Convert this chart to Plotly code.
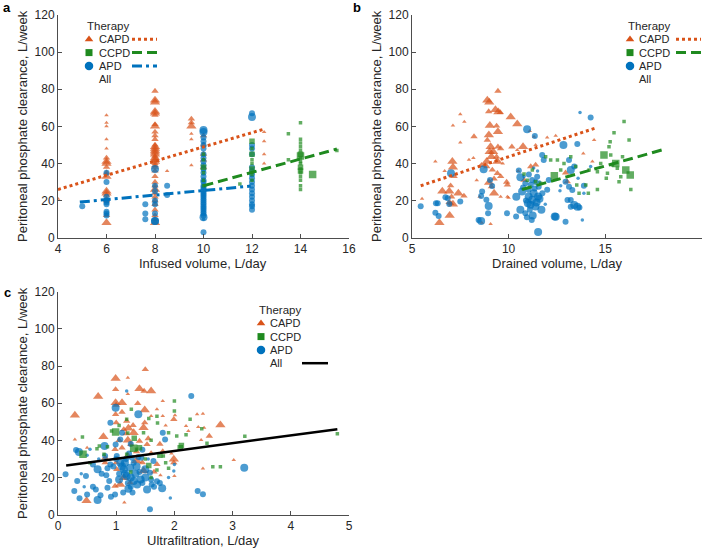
import plotly.graph_objects as go

W, H = 708, 552

# ---------------- DATA ----------------
therapies = ["CAPD", "CCPD", "APD"]
y_ticks = [0, 20, 40, 60, 80, 100, 120]
xa_ticks = [4, 6, 8, 10, 12, 14, 16]
xb_ticks = [5, 10, 15, 20]
xc_ticks = [0, 1, 2, 3, 4, 5]

capd_a_x = [4,
            6, 6, 6, 6, 6, 6, 6, 6, 6, 6, 6, 6, 6, 6, 6, 6, 6, 6,
            8, 8, 8, 8, 8, 8, 8, 8, 8, 8, 8, 8, 8, 8, 8, 8, 8, 8, 8, 8, 8, 8, 8, 8, 8, 8, 8, 8, 8, 8, 8, 8, 8, 8, 8, 8, 8,
            8.5,
            9.5, 9.5, 9.5, 9.5, 9.5, 9.5,
            10, 10, 10, 10, 10,
            12.5, 12.5, 12.5, 12.5]
capd_a_y = [21,
            66, 62, 60, 53, 48, 43, 41, 40, 38, 35, 33, 25, 24, 23, 21, 20, 12, 8,
            79, 74, 73, 68, 67, 66, 61, 60, 57, 55, 53, 50, 49, 48, 47, 46, 45, 44, 43, 42, 41, 40, 39, 38, 36, 33, 30, 28, 26, 24, 22, 20, 18, 15, 12, 10, 8,
            36,
            64, 62, 60, 56, 53, 39,
            55, 50, 45, 42, 38,
            57, 52, 45, 40]
capd_a_w = [1,
            1, 1, 1, 1, 1, 2, 3, 3, 2, 2, 3, 3, 3, 2, 2, 2, 2, 3,
            2, 3, 3, 3, 3, 2, 2, 3, 2, 2, 2, 2, 3, 3, 3, 3, 3, 2, 3, 3, 3, 2, 2, 2, 2, 2, 2, 2, 3, 2, 2, 2, 2, 2, 2, 2, 3,
            1,
            2, 2, 3, 1, 1, 1,
            2, 2, 2, 2, 2,
            1, 1, 1, 1]

ccpd_a_x = [10, 10, 10, 10, 10, 10, 11.5,
            12, 12, 12, 12, 12, 12, 12, 12, 13.5, 13.5,
            14, 14, 14, 14, 14, 14, 14, 14, 14, 14, 14, 14, 14, 14, 14, 14, 14, 14,
            14.5, 15.5]
ccpd_a_y = [45, 42, 38, 35, 31, 28, 29,
            52, 48, 45, 42, 40, 37, 34, 31, 56, 42,
            62, 53, 51, 49, 47, 45, 44, 43, 41, 40, 38, 37, 36, 35, 33, 31, 28, 26,
            34, 47]
ccpd_a_w = [1, 1, 2, 1, 1, 1, 1,
            2, 1, 2, 1, 1, 2, 1, 1, 1, 1,
            1, 1, 1, 1, 1, 2, 3, 1, 1, 1, 2, 1, 2, 1, 1, 1, 1, 1,
            3, 1]

apd_a_x = [5,
           6, 6, 6, 6, 6, 6, 6, 6, 6,
           7.6, 7.6, 7.6,
           8, 8, 8, 8, 8, 8, 8, 8,
           8.5, 8.5,
           10, 10, 10, 10, 10, 10, 10, 10, 10, 10, 10, 10, 10, 10, 10, 10, 10, 10, 10, 10, 10, 10, 10, 10, 10, 10, 10, 10, 10, 10, 10, 10, 10, 10, 10,
           12, 12, 12, 12, 12, 12, 12, 12, 12, 12, 12, 12, 12, 12, 12, 12, 12, 12, 12, 12]
apd_a_y = [17,
           35, 30, 22, 20, 19, 18, 14, 13, 12,
           18, 13, 10,
           37, 28, 25, 20, 18, 13, 9, 9,
           28, 23,
           58, 57, 54, 52, 50, 48, 45, 43, 41, 39, 37, 35, 33, 31, 30, 28, 27, 26, 25, 24, 23, 22, 21, 20, 19, 18, 17, 16, 15, 14, 13, 12, 11, 10, 3,
           67, 65, 50, 48, 45, 38, 36, 34, 32, 30, 28, 26, 24, 22, 20, 18, 17, 15, 14, 9]
apd_a_w = [2,
           2, 2, 2, 2, 2, 2, 2, 2, 2,
           2, 2, 2,
           3, 2, 2, 2, 2, 2, 3, 3,
           2, 2,
           3, 3, 2, 2, 2, 2, 2, 2, 2, 2, 2, 2, 2, 2, 2, 2, 2, 2, 2, 2, 2, 2, 2, 2, 2, 2, 2, 2, 2, 2, 2, 2, 3,
           1, 2, 2, 3, 2, 2, 2, 2, 2, 2, 2, 2, 2, 2, 2, 2, 2, 2, 2, 2]

capd_b_points = [
    (5.52, 21, 1), (6.21, 41, 1), (6.69, 36, 1), (6.57, 25, 3), (6.42, 8, 3), (6.93, 25, 3), (6.92, 19, 2),
    (7.09, 41, 3), (7.12, 38, 3), (7.18, 33, 2), (7.0, 28, 2), (7.05, 22, 2), (7.0, 18.5, 2), (6.95, 12, 3),
    (7.12, 18, 3), (7.4, 24, 3), (7.69, 22.5, 2), (7.5, 66.5, 1), (7.12, 60.5, 1), (7.71, 62.5, 1), (7.5, 51.3, 1),
    (7.95, 42, 1), (8.21, 54.5, 2), (8.18, 43, 1), (8.61, 8, 1), (8.9, 74, 3), (9.0, 73, 3), (8.97, 68, 2),
    (9.32, 69, 3), (9.47, 67.7, 3), (9.57, 67.5, 2), (9.45, 79, 2), (9.03, 60.5, 3), (8.98, 55.3, 3), (9.38, 60.2, 2),
    (9.45, 57.1, 3), (8.9, 52.6, 2), (9.07, 49, 3), (9.02, 46.3, 3), (9.2, 46.3, 3), (9.11, 43.6, 3), (8.87, 41, 3),
    (9.45, 49, 2), (9.59, 48, 2), (9.38, 43.6, 2), (9.42, 41, 3), (8.87, 38.3, 2), (9.16, 36.5, 2), (9.42, 34.7, 2),
    (9.59, 33, 2), (8.99, 29.8, 3), (9.11, 27.5, 2), (9.25, 24, 3), (9.59, 22, 1), (9.9, 30, 2), (9.94, 28.4, 2),
    (9.94, 22, 1), (10.11, 65, 3), (10.45, 61.3, 3), (10.17, 49, 2), (10.45, 47.2, 1), (10.75, 49, 3), (11.1, 57.5, 1),
    (11.32, 54.4, 1), (11.4, 50, 1), (11.4, 39.2, 2), (11.15, 38.3, 2), (12.0, 54, 1), (12.44, 55, 1), (12.95, 35, 2),
    (13.04, 30.2, 2), (13.87, 45.4, 1), (14.34, 41, 1), (14.43, 52.6, 1), (9.07, 7.4, 1), (8.6, 39, 2), (9.25, 31.7, 2),
    (10.5, 36, 1), (10.8, 31, 2), (9.7, 40, 1), (8.35, 31, 1), (8.5, 22, 1), (10.0, 21.5, 1),
]
ccpd_b_points = [
    (10.8, 34.3, 1), (10.97, 31, 1), (11.23, 36.5, 1), (11.4, 30.2, 1), (11.66, 29.3, 1), (11.92, 43.6, 1),
    (12.18, 41.9, 1), (12.37, 33.4, 3), (12.53, 41.9, 1), (12.7, 36.5, 1), (12.87, 40, 1), (13.22, 43.6, 1),
    (13.48, 38.3, 1), (13.53, 28.4, 1), (13.65, 23.9, 1), (14.0, 28.4, 1), (14.13, 23.9, 1), (14.6, 26.0, 1),
    (14.94, 44.5, 3), (15.2, 49, 1), (15.29, 44.5, 1), (15.46, 56.5, 1), (15.26, 51.7, 1), (15.38, 39.2, 1),
    (15.55, 40, 3), (15.63, 37.4, 1), (15.72, 30.2, 1), (15.9, 43.6, 1), (15.98, 62.6, 1), (16.07, 36.5, 3),
    (16.24, 52.6, 1), (16.3, 33.8, 3), (16.33, 26.0, 1), (15.12, 34.7, 1), (15.06, 32, 1), (14.77, 40, 1),
    (15.81, 32.9, 1), (14.17, 36.5, 1), (14.6, 35.6, 1),
]
apd_b_points = [
    (5.45, 17, 2), (6.24, 18.6, 2), (6.33, 18.6, 2), (6.21, 13.5, 2), (6.38, 11.7, 2), (6.73, 21.8, 2),
    (6.85, 21.3, 2), (7.02, 34.7, 3), (6.93, 18.2, 2), (7.5, 19.5, 2), (8.71, 36.9, 3), (8.63, 24.9, 2),
    (8.58, 22.5, 2), (8.45, 9.6, 2), (8.58, 9.0, 3), (8.94, 13.2, 2), (8.85, 20.4, 2), (9.04, 31.1, 2),
    (9.15, 27.9, 2), (8.97, 17.1, 3), (9.92, 13.2, 2), (10.39, 11.4, 2), (10.96, 58.4, 3), (11.36, 54.8, 2),
    (10.53, 36.2, 2), (10.61, 32.6, 3), (10.87, 29.3, 2), (10.7, 24.9, 3), (10.61, 15, 3), (10.87, 13.2, 2),
    (11.04, 22.2, 3), (11.22, 20.4, 3), (11.13, 17.7, 3), (11.3, 24, 3), (11.53, 22.2, 3), (11.39, 16.8, 3),
    (11.53, 3.1, 3), (11.74, 44.6, 2), (11.82, 41.9, 2), (12.08, 31.1, 2), (12.0, 25.8, 2), (12.39, 11.4, 3),
    (11.56, 27.5, 2), (11.04, 25.8, 2), (11.22, 31.1, 2), (11.48, 32.9, 2), (10.9, 20, 2), (11.0, 18.5, 3),
    (11.1, 15, 2), (11.25, 12, 3), (11.45, 19, 3), (11.6, 21, 3), (11.7, 15, 3), (11.35, 26.5, 2),
    (11.15, 28.5, 2), (11.5, 36, 1), (11.3, 37.5, 1), (10.8, 33, 1), (11.6, 30, 1), (11.75, 24, 2),
    (11.9, 18, 1), (10.75, 27, 2), (11.05, 34, 2), (11.4, 30, 2), (11.2, 9.5, 2), (10.4, 22, 3), (10.95, 11, 2),
    (12.84, 49.9, 3), (13.56, 50.5, 2), (14.25, 64.8, 2), (13.13, 41.9, 2), (13.4, 38.3, 2), (13.22, 36.5, 3),
    (12.95, 30.2, 2), (13.13, 27.5, 2), (13.3, 25.7, 2), (13.22, 20.3, 2), (13.4, 17.6, 3), (13.56, 16.7, 3),
    (13.22, 16.7, 2), (13.05, 20.3, 2), (13.67, 16.3, 2), (12.44, 11.3, 3), (12.95, 8.6, 2), (13.82, 9.5, 1),
    (12.66, 25.3, 1), (13.9, 23.9, 1), (14.25, 38.3, 1), (13.7, 67.5, 1), (13.9, 28, 2), (12.7, 28, 1), (13.6, 32, 1),
]

capd_c_points = [
    (0.29, 53.5, 3), (0.29, 40.5, 1), (0.49, 7.5, 3), (0.69, 63.6, 3), (0.99, 73.3, 3), (0.99, 67.4, 2),
    (0.99, 60.3, 3), (1.0, 59, 2), (1.1, 60.3, 3), (1.2, 73.7, 1), (1.2, 64.9, 1), (1.4, 67.8, 3), (1.48, 66.5, 2),
    (1.6, 66.5, 3), (1.5, 78.2, 2), (1.37, 59.9, 2), (1.49, 56.3, 3), (1.1, 55.2, 2), (0.99, 54, 2), (1.18, 50.4, 2),
    (1.13, 45.9, 2), (1.0, 49.5, 2), (1.21, 46.5, 3), (1.3, 44.1, 3), (1.47, 46.8, 3), (1.49, 49.5, 2),
    (1.6, 53.1, 1), (1.7, 56.7, 1), (1.8, 53.1, 1), (1.8, 61.2, 1), (1.99, 51.3, 2), (2.01, 53.5, 1),
    (2.2, 47.7, 1), (2.24, 45, 1), (2.39, 54, 1), (2.49, 54.3, 1), (2.41, 47.2, 1), (2.51, 46.8, 1),
    (2.6, 42.3, 2), (2.79, 48.3, 3), (2.49, 24.8, 1), (3.02, 29.4, 1), (2.46, 40.2, 1), (1.99, 29.8, 3),
    (1.99, 28, 2), (2.0, 20.8, 1), (1.76, 21.2, 1), (1.7, 27.1, 2), (0.98, 15.4, 2), (1.07, 16.3, 3),
    (1.13, 19.9, 3), (1.24, 17.2, 2), (1.47, 23.5, 3), (0.81, 28, 2), (0.81, 30.7, 2), (0.78, 42, 3),
    (1.17, 43.6, 2), (1.25, 37.8, 2), (1.4, 39.6, 2), (1.53, 37.8, 2), (1.14, 6.6, 1), (0.98, 35.2, 2),
    (1.01, 24.4, 2), (1.29, 48.1, 2), (0.5, 36, 1), (1.35, 34, 2), (1.55, 41, 2), (1.75, 38, 2),
    (1.85, 48, 1), (1.2, 40, 3), (1.45, 28, 2), (1.95, 33, 1), (1.05, 40, 2), (1.65, 23, 2),
    (1.2, 32, 2), (1.35, 29, 3), (1.1, 36, 2), (1.6, 33, 2), (1.8, 34, 2), (1.0, 28, 2),
]
ccpd_c_points = [
    (0.42, 41.8, 1), (0.43, 32.5, 3), (0.67, 35.5, 1), (0.71, 37, 1), (0.79, 32.5, 1), (0.99, 44.5, 3),
    (1.18, 51.3, 1), (1.26, 56.7, 1), (1.31, 41.1, 2), (1.3, 35.7, 3), (1.47, 44.1, 1), (1.56, 51.8, 1),
    (1.7, 53, 1), (2.0, 61.2, 1), (2.0, 55.8, 1), (1.9, 44.1, 1), (2.04, 42.3, 1), (2.12, 37.3, 2),
    (2.27, 51.3, 1), (2.47, 46.3, 1), (2.56, 38.4, 1), (2.66, 25.8, 1), (2.79, 25.8, 1), (3.21, 42.2, 1),
    (4.8, 43.5, 1), (1.56, 26.5, 2), (1.81, 31.6, 1), (0.92, 45, 1), (0.55, 28, 1), (1.71, 49.4, 1),
    (1.18, 32.5, 1), (1.35, 35.2, 1), (1.6, 20, 1), (1.85, 28, 1), (2.1, 36, 2), (0.85, 36.5, 1),
    (1.5, 30, 1), (1.9, 25, 1), (1.05, 48, 1), (1.25, 23, 1),
    (1.2, 44, 1), (1.4, 36, 2), (1.7, 24, 1), (1.75, 32, 2), (1.6, 40, 1), (2.2, 43, 1),
]
apd_c_points = [
    (0.13, 21.8, 2), (0.28, 12.8, 2), (0.31, 34.8, 2), (0.36, 33.7, 3), (0.33, 18.2, 2), (0.37, 8.9, 2),
    (0.48, 20.8, 2), (0.5, 10.9, 2), (0.55, 35.2, 1), (0.6, 15.1, 2), (0.68, 7.9, 3), (0.65, 13.6, 2),
    (0.73, 10.4, 2), (0.68, 24.4, 3), (0.81, 31.6, 2), (0.8, 37, 3), (0.83, 21.2, 2), (0.88, 18.1, 2),
    (0.85, 14.5, 2), (0.91, 9.6, 2), (0.98, 10.9, 2), (0.9, 49.5, 2), (0.99, 57.6, 3), (0.99, 37.8, 2),
    (1.01, 31.6, 2), (1.07, 28, 3), (1.13, 24.4, 3), (1.18, 20.8, 3), (1.24, 25.3, 3), (1.27, 30.7, 2),
    (1.3, 18.1, 3), (1.36, 16.3, 3), (1.38, 54, 3), (1.43, 30.7, 2), (1.5, 24.4, 3), (1.53, 13.6, 3),
    (1.58, 22.6, 2), (1.61, 16.3, 2), (1.58, 3, 2), (1.79, 14.2, 3), (1.8, 44.1, 2), (1.84, 40.5, 2),
    (2.29, 63.9, 2), (2.4, 12.8, 2), (2.49, 11, 2), (3.2, 25.3, 3), (1.93, 9, 1), (1.18, 66.5, 1),
    (1.1, 44.1, 2), (1.07, 40.5, 2), (1.21, 14, 3), (1.64, 28.9, 2), (1.99, 23.5, 1), (1.15, 28, 3),
    (1.22, 33, 2), (1.33, 22, 3), (1.42, 19, 3), (1.05, 22, 2), (0.95, 26, 2), (1.45, 35, 2), (1.7, 18, 2),
    (0.6, 27, 2), (0.75, 22, 2), (1.25, 38, 2), (1.55, 30, 1), (0.45, 15, 1), (1.28, 12, 2), (1.12, 12, 2),
    (0.7, 30, 1),
    (1.05, 19, 3), (1.15, 22, 3), (1.25, 20, 3), (1.35, 26, 3), (1.4, 23, 2), (1.1, 26, 3), (1.2, 17, 2),
    (1.3, 28, 2), (1.45, 17, 2), (1.5, 20, 3), (1.6, 19, 2), (1.0, 30, 2), (0.9, 27, 2), (1.17, 30, 2),
    (1.25, 15, 2), (1.65, 15, 2), (1.75, 17, 2), (1.38, 31, 2), (0.85, 25, 2), (0.5, 32, 1), (0.4, 22, 1),
    (1.9, 20, 1), (2.0, 27, 1),
]

# regression lines (end points)
capd_a_fit_x, capd_a_fit_y = [4, 12.5], [26, 58.5]
ccpd_a_fit_x, ccpd_a_fit_y = [10, 15.5], [28, 47.8]
apd_a_fit_x, apd_a_fit_y = [4.9, 11.95], [19.2, 27.8]
capd_b_fit_x, capd_b_fit_y = [5.45, 14.45], [28, 58.9]
ccpd_b_fit_x, ccpd_b_fit_y = [10.7, 18.05], [26, 47.6]
all_c_fit_x, all_c_fit_y = [0.14, 4.8], [26.5, 46]

# ---------------- STYLE ----------------
C_ORANGE = "#D95319"
C_GREEN = "#1F8A1F"
C_BLUE = "#0072BD"
FONT = "Liberation Sans, Arial, sans-serif"
TXT = "#262626"
AX = "#4D4D4D"

SYM = {"CAPD": "triangle-up", "CCPD": "square", "APD": "circle"}
COL = {"CAPD": C_ORANGE, "CCPD": C_GREEN, "APD": C_BLUE}
SIZES = {"CAPD": {1: 4, 2: 6.5, 3: 9}, "CCPD": {1: 3.5, 2: 5.5, 3: 7.5}, "APD": {1: 3.5, 2: 6, 3: 8}}


def px(x, y):
    return x / W, 1 - y / H


fig = go.Figure()


def add_points(t, xs, ys, ws, xa, ya):
    fig.add_trace(go.Scatter(
        x=xs, y=ys, mode="markers", xaxis=xa, yaxis=ya, showlegend=False, hoverinfo="skip",
        marker=dict(symbol=SYM[t], color=COL[t], size=[SIZES[t][w] for w in ws], line=dict(width=0)),
    ))


def unpack(pts):
    return [p[0] for p in pts], [p[1] for p in pts], [p[2] for p in pts]


def add_line(xs, ys, color, dash, width, xa, ya):
    fig.add_trace(go.Scatter(x=xs, y=ys, mode="lines", xaxis=xa, yaxis=ya, showlegend=False,
                             hoverinfo="skip", line=dict(color=color, dash=dash, width=width)))


DOT, DASH, DASHDOT = "dot", "10px,5px", "10px,4px,3px,4px"

add_points("CAPD", capd_a_x, capd_a_y, capd_a_w, "x", "y")
add_points("APD", apd_a_x, apd_a_y, apd_a_w, "x", "y")
add_points("CCPD", ccpd_a_x, ccpd_a_y, ccpd_a_w, "x", "y")
add_line(capd_a_fit_x, capd_a_fit_y, C_ORANGE, DOT, 3, "x", "y")
add_line(ccpd_a_fit_x, ccpd_a_fit_y, C_GREEN, DASH, 3, "x", "y")
add_line(apd_a_fit_x, apd_a_fit_y, C_BLUE, DASHDOT, 3, "x", "y")

add_points("CAPD", *unpack(capd_b_points), "x2", "y2")
add_points("APD", *unpack(apd_b_points), "x2", "y2")
add_points("CCPD", *unpack(ccpd_b_points), "x2", "y2")
add_line(capd_b_fit_x, capd_b_fit_y, C_ORANGE, DOT, 3, "x2", "y2")
add_line(ccpd_b_fit_x, ccpd_b_fit_y, C_GREEN, DASH, 3, "x2", "y2")

add_points("CAPD", *unpack(capd_c_points), "x3", "y3")
add_points("APD", *unpack(apd_c_points), "x3", "y3")
add_points("CCPD", *unpack(ccpd_c_points), "x3", "y3")
add_line(all_c_fit_x, all_c_fit_y, "black", "solid", 2.5, "x3", "y3")

# ---------------- LEGENDS (overlay axis in pixel units) ----------------
annotations = []
legend_specs = [
    dict(tx=97, ty=26, mx=89, lx=(132, 157), lines={"CAPD": (C_ORANGE, DOT), "CCPD": (C_GREEN, DASH), "APD": (C_BLUE, DASHDOT)}),
    dict(tx=637, ty=26, mx=630, lx=(676, 701), lines={"CAPD": (C_ORANGE, DOT), "CCPD": (C_GREEN, DASH)}),
    dict(tx=268, ty=310, mx=261, lx=(302, 328), lines={"All": ("black", "solid")}),
]
ROW = 13.3
LFS = 11
for spec in legend_specs:
    annotations.append(dict(text="Therapy", x=px(spec["mx"] - 4, 0)[0], y=px(0, spec["ty"])[1],
                            xref="paper", yref="paper", xanchor="left", yanchor="middle", showarrow=False,
                            font=dict(family=FONT, size=11.5, color=TXT)))
    for i, name in enumerate(therapies + ["All"]):
        yy = spec["ty"] + ROW * (i + 1)
        annotations.append(dict(text=name, x=px(spec["tx"], 0)[0], y=px(0, yy)[1],
                                xref="paper", yref="paper", xanchor="left", yanchor="middle", showarrow=False,
                                font=dict(family=FONT, size=LFS, color=TXT)))
        if name in SYM:
            fig.add_trace(go.Scatter(x=[spec["mx"]], y=[yy], mode="markers", xaxis="x4", yaxis="y4",
                                     showlegend=False, hoverinfo="skip",
                                     marker=dict(symbol=SYM[name], color=COL[name],
                                                 size={"CAPD": 7.5, "CCPD": 7, "APD": 8.5}[name], line=dict(width=0))))
        if name in spec["lines"]:
            c, d = spec["lines"][name]
            fig.add_trace(go.Scatter(x=list(spec["lx"]), y=[yy, yy], mode="lines", xaxis="x4", yaxis="y4",
                                     showlegend=False, hoverinfo="skip",
                                     line=dict(color=c, dash=d, width=3 if c != "black" else 2.5)))

# panel labels
for lab, (lx, ly) in {"a": (7, 8), "b": (357, 8), "c": (7, 292)}.items():
    annotations.append(dict(text="<b>%s</b>" % lab, x=px(lx, 0)[0], y=px(0, ly)[1], xref="paper", yref="paper",
                            xanchor="center", yanchor="middle", showarrow=False,
                            font=dict(family=FONT, size=13, color="black")))

# axis titles as annotations
TFS = 13
for text, cx, cy, ang in [
    ("Peritoneal phosphate clearance, L/week", 22, 126, -90),
    ("Peritoneal phosphate clearance, L/week", 376, 126, -90),
    ("Peritoneal phosphate clearance, L/week", 22, 403, -90),
    ("Infused volume, L/day", 203.5, 263, 0),
    ("Drained volume, L/day", 557, 263, 0),
    ("Ultrafiltration, L/day", 203.5, 540.5, 0),
]:
    annotations.append(dict(text=text, x=px(cx, 0)[0], y=px(0, cy)[1], xref="paper", yref="paper",
                            xanchor="center", yanchor="middle", showarrow=False, textangle=ang,
                            font=dict(family=FONT, size=TFS, color=TXT)))

# ---------------- AXES ----------------
ax_common = dict(showgrid=False, zeroline=False, showline=True, linecolor=AX, linewidth=1,
                 ticks="inside", ticklen=4, tickcolor=AX, mirror=False,
                 tickfont=dict(family=FONT, size=12, color=TXT))

dom_ax = [58 / W, 349 / W]
dom_bx = [412 / W, 701.7 / W]
dom_top = [1 - 237.7 / H, 1 - 15 / H]
dom_bot = [1 - 514.7 / H, 1 - 291.7 / H]

fig.update_layout(
    width=W, height=H, margin=dict(l=0, r=0, t=0, b=0, autoexpand=False),
    paper_bgcolor="white", plot_bgcolor="rgba(0,0,0,0)", showlegend=False,
    xaxis=dict(domain=dom_ax, range=[4, 16], tickvals=xa_ticks, anchor="y", **ax_common),
    yaxis=dict(domain=dom_top, range=[0, 120], tickvals=y_ticks, anchor="x", **ax_common),
    xaxis2=dict(domain=dom_bx, range=[5, 20], tickvals=xb_ticks, anchor="y2", **ax_common),
    yaxis2=dict(domain=dom_top, range=[0, 120], tickvals=y_ticks, anchor="x2", **ax_common),
    xaxis3=dict(domain=dom_ax, range=[0, 5], tickvals=xc_ticks, anchor="y3", **ax_common),
    yaxis3=dict(domain=dom_bot, range=[0, 120], tickvals=y_ticks, anchor="x3", **ax_common),
    xaxis4=dict(domain=[0, 1], range=[0, W], visible=False, anchor="y4", fixedrange=True),
    yaxis4=dict(domain=[0, 1], range=[H, 0], visible=False, anchor="x4", fixedrange=True),
    annotations=annotations,
)

fig.write_html("out.html", config={"displayModeBar": False},
               post_script="document.body.style.margin='0px';document.body.style.overflow='hidden';")
